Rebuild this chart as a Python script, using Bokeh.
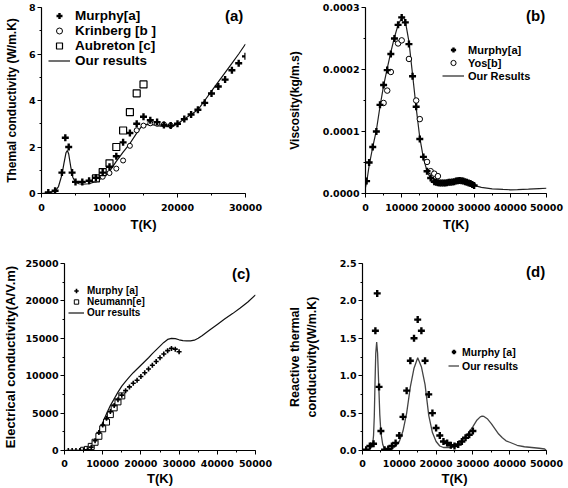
from bokeh.plotting import figure
from bokeh.layouts import column, row
from bokeh.models import (Range1d, SingleIntervalTicker, NumeralTickFormatter,
                          Legend, LegendItem)
from bokeh.embed import file_html
from bokeh.resources import INLINE

# ---------------- data ----------------
# (a) thermal conductivity
a_murphy_T = [1000, 2000, 3000, 3500, 4000, 4500, 5000, 6000, 7000, 8000, 9000, 10000,
              11000, 12000, 13000, 14000, 15000, 16000, 17000, 18000, 19000, 20000,
              21000, 22000, 23000, 24000, 25000, 26000, 27000, 28000, 29000, 30000]
a_murphy_v = [0.04, 0.12, 0.9, 2.4, 2.0, 0.9, 0.5, 0.5, 0.55, 0.68, 0.9, 1.15,
              1.6, 2.2, 2.6, 3.0, 3.3, 3.15, 3.07, 2.95, 2.92, 3.0,
              3.2, 3.4, 3.6, 3.9, 4.3, 4.6, 4.9, 5.3, 5.6, 5.9]
a_krinberg_T = [8000, 9000, 10000, 11000, 12000, 13000, 14000, 15000, 16000, 17000, 18000, 19000]
a_krinberg_v = [0.6, 0.72, 0.88, 1.07, 1.42, 2.05, 2.72, 2.92, 3.02, 3.0, 2.97, 2.93]
a_aubreton_T = [8000, 9000, 10000, 11000, 12000, 13000, 14000, 15000]
a_aubreton_v = [0.65, 0.92, 1.3, 2.0, 2.71, 3.5, 4.31, 4.69]
a_ours_T = [0, 1000, 2000, 2500, 3000, 3300, 3600, 3800, 4000, 4300, 4600, 5000, 5500,
            6000, 7000, 8000, 9000, 10000, 11000, 12000, 13000, 14000, 14800, 15500,
            16500, 17500, 18500, 19500, 20000, 21000, 22000, 23000, 24000, 25000,
            26000, 27000, 28000, 29000, 30000]
a_ours_v = [0, 0.03, 0.1, 0.3, 0.8, 1.3, 1.75, 1.85, 1.7, 1.15, 0.7, 0.48, 0.42,
            0.4, 0.42, 0.52, 0.68, 0.95, 1.38, 1.78, 2.15, 2.6, 2.92, 2.97,
            2.95, 2.9, 2.88, 2.92, 3.0, 3.2, 3.4, 3.6, 4.0, 4.4,
            4.8, 5.2, 5.6, 6.0, 6.43]

# (b) viscosity
b_murphy_T = [300, 1000, 2000, 3000, 4000, 5000, 6000, 7000, 8000, 9000, 10000, 11000,
              12000, 13000, 14000, 15000, 16000, 17000, 18000, 19000, 19500, 20000,
              20500, 21000, 21500, 22000, 22500, 23000, 23500, 24000, 24500, 25000,
              25500, 26000, 26500, 27000, 27500, 28000, 28500, 29000, 29500, 30000]
b_murphy_v = [0.2e-4, 0.5e-4, 0.75e-4, 1.0e-4, 1.43e-4, 1.75e-4, 1.99e-4, 2.25e-4, 2.5e-4,
              2.72e-4, 2.84e-4, 2.76e-4, 2.41e-4, 1.89e-4, 1.40e-4, 0.88e-4, 0.59e-4,
              0.36e-4, 0.25e-4, 0.19e-4, 0.18e-4, 0.175e-4, 0.17e-4, 0.17e-4, 0.17e-4,
              0.17e-4, 0.175e-4, 0.18e-4, 0.18e-4, 0.185e-4, 0.19e-4, 0.2e-4, 0.205e-4,
              0.21e-4, 0.205e-4, 0.2e-4, 0.19e-4, 0.18e-4, 0.17e-4, 0.16e-4, 0.145e-4,
              0.13e-4]
b_yos_T = [5000, 6000, 7000, 9000, 10000, 12000, 14000, 15000, 17000, 18000, 19000, 20000]
b_yos_v = [1.46e-4, 1.66e-4, 1.96e-4, 2.42e-4, 2.47e-4, 2.17e-4, 1.50e-4, 1.20e-4,
           0.51e-4, 0.36e-4, 0.32e-4, 0.28e-4]
b_ours_T = [0, 500, 1000, 2000, 3000, 4000, 5000, 6000, 7000, 8000, 9000, 10000, 10500,
            11000, 12000, 13000, 14000, 15000, 16000, 17000, 18000, 19000, 20000, 22000,
            24000, 26000, 28000, 30000, 32000, 35000, 38000, 40000, 42000, 45000, 48000,
            50000]
b_ours_v = [0.1e-4, 0.25e-4, 0.45e-4, 0.75e-4, 1.02e-4, 1.40e-4, 1.74e-4, 2.02e-4,
            2.28e-4, 2.52e-4, 2.72e-4, 2.83e-4, 2.84e-4, 2.78e-4, 2.45e-4, 1.92e-4,
            1.38e-4, 0.9e-4, 0.57e-4, 0.36e-4, 0.24e-4, 0.19e-4, 0.17e-4, 0.17e-4,
            0.18e-4, 0.2e-4, 0.17e-4, 0.13e-4, 0.1e-4, 0.075e-4, 0.065e-4, 0.06e-4,
            0.062e-4, 0.07e-4, 0.08e-4, 0.085e-4]

# (c) electrical conductivity
c_murphy_T = [1000, 2000, 3000, 4000, 5000, 6000, 7000, 8000, 9000, 10000, 11000, 12000,
              13000, 14000, 15000, 16000, 17000, 18000, 19000, 20000, 21000, 22000,
              23000, 24000, 25000, 26000, 27000, 28000, 29000, 30000]
c_murphy_v = [0, 0, 0, 0, 0, 100, 450, 1300, 2400, 3400, 4300, 5200,
              6000, 6800, 7400, 8000, 8500, 9000, 9400, 9900, 10400, 10900,
              11400, 11900, 12400, 12900, 13350, 13650, 13550, 13200]
c_neumann_T = [5000, 6000, 7000, 8000, 9000, 10000, 11000, 12000, 13000, 14000, 15000]
c_neumann_v = [30, 150, 550, 1100, 1900, 2900, 3800, 4800, 5700, 6500, 7300]
c_ours_T = [1000, 5000, 6000, 7000, 8000, 9000, 10000, 11000, 12000, 13000, 14000, 15000,
            16000, 17000, 18000, 19000, 20000, 21000, 22000, 23000, 24000, 25000, 26000,
            27000, 28000, 29000, 30000, 31000, 32000, 33000, 34000, 35000, 36000, 38000,
            40000, 42000, 44000, 46000, 48000, 50000]
c_ours_v = [0, 0, 30, 300, 1200, 2450, 3700, 4900, 6000, 6900, 7800, 8600,
            9250, 9850, 10400, 10900, 11400, 11900, 12400, 12950, 13450, 13950, 14450,
            14850, 15000, 14950, 14800, 14700, 14650, 14650, 14750, 15000, 15350, 16100,
            16850, 17600, 18300, 19050, 19850, 20800]

# (d) reactive thermal conductivity
d_murphy_T = [1000, 2000, 3000, 3500, 4000, 4500, 5000, 6000, 7000, 8000, 9000, 10000,
              11000, 12000, 13000, 14000, 15000, 16000, 17000, 18000, 19000, 20000,
              21000, 22000, 23000, 24000, 25000, 26000, 27000, 28000, 29000, 30000]
d_murphy_v = [0.01, 0.06, 0.09, 1.6, 2.1, 0.85, 0.26, 0.01, 0.02, 0.06, 0.1, 0.2,
              0.45, 0.8, 1.2, 1.5, 1.75, 1.6, 1.2, 0.75, 0.5, 0.3,
              0.2, 0.12, 0.1, 0.07, 0.06, 0.08, 0.12, 0.17, 0.21, 0.26]
d_ours_T = [0, 1000, 2000, 2500, 2800, 3000, 3200, 3400, 3600, 3850, 4100, 4400, 4700,
            5000, 5500, 6000, 7000, 8000, 9000, 10000, 11000, 12000, 13000, 14000, 15000,
            16000, 17000, 18000, 19000, 20000, 21000, 22000, 23000, 24000, 25000, 26000,
            27000, 28000, 29000, 30000, 31000, 32000, 32500, 33000, 34000, 35000, 36000,
            37000, 38000, 39000, 40000, 42000, 44000, 46000, 48000, 49500, 50000]
d_ours_v = [0, 0, 0.02, 0.05, 0.1, 0.2, 0.45, 0.9, 1.3, 1.45, 1.3, 0.9, 0.48,
            0.24, 0.08, 0.02, 0.0, 0.02, 0.06, 0.12, 0.26, 0.5, 0.85, 1.1, 1.24,
            1.12, 0.88, 0.47, 0.24, 0.12, 0.06, 0.04, 0.04, 0.04, 0.05, 0.08,
            0.12, 0.18, 0.25, 0.32, 0.4, 0.45, 0.46, 0.455, 0.42, 0.36, 0.29,
            0.22, 0.17, 0.13, 0.11, 0.07, 0.05, 0.04, 0.03, 0.02, 0.0]

panel_tags = ["(a)", "(b)", "(c)", "(d)"]

TICK_FONT = "DejaVu Sans"
LBL_FONT = "Liberation Sans"


def make_fig(fw, fh, left, right, top, bottom, xr, yr, xint, yint, ylabel,
             ylabel_size, ylab_standoff, tick_standoff, xlab_standoff, yfmt=None):
    p = figure(frame_width=fw, frame_height=fh, min_border_left=left,
               min_border_right=right, min_border_top=top, min_border_bottom=bottom,
               x_range=Range1d(*xr), y_range=Range1d(*yr), output_backend="svg",
               toolbar_location=None, tools="")
    p.outline_line_color = None
    p.xgrid.visible = False
    p.ygrid.visible = False
    p.background_fill_color = "white"
    p.border_fill_color = "white"
    p.xaxis.ticker = SingleIntervalTicker(interval=xint, num_minor_ticks=2)
    p.yaxis.ticker = SingleIntervalTicker(interval=yint, num_minor_ticks=2)
    if yfmt:
        p.yaxis.formatter = NumeralTickFormatter(format=yfmt)
    for ax in (p.xaxis[0], p.yaxis[0]):
        ax.axis_line_color = "black"
        ax.axis_line_width = 1.2
        ax.major_tick_line_color = "black"
        ax.minor_tick_line_color = "black"
        ax.major_tick_out = 4
        ax.major_tick_in = 0
        ax.minor_tick_out = 2
        ax.minor_tick_in = 0
        ax.major_label_text_font = TICK_FONT
        ax.major_label_text_font_style = "bold"
        ax.major_label_text_font_size = "9.5px"
        ax.major_label_text_color = "black"
        ax.axis_label_text_font = LBL_FONT
        ax.axis_label_text_font_style = "bold"
        ax.axis_label_text_color = "black"
    p.yaxis.major_label_standoff = 2
    p.xaxis.major_label_standoff = tick_standoff
    p.xaxis.axis_label = "T(K)"
    p.xaxis.axis_label_text_font_size = "13px"
    p.xaxis.axis_label_standoff = xlab_standoff
    p.yaxis.axis_label = ylabel
    p.yaxis.axis_label_text_font_size = ylabel_size
    p.yaxis.axis_label_standoff = ylab_standoff
    return p


def plus(p, x, y, size=7, lw=2.4):
    return p.scatter(x, y, marker="cross", size=size, line_color="black", line_width=lw)


def make_legend(p, items, loc, font_size, gw, gh, standoff, spacing):
    lg = Legend(items=items, location=loc, border_line_color=None,
                background_fill_alpha=0, padding=0, margin=0, spacing=spacing,
                glyph_width=gw, glyph_height=gh, label_height=gh,
                label_standoff=standoff, label_text_font=LBL_FONT,
                label_text_font_style="bold", label_text_font_size=font_size,
                label_text_color="black")
    p.add_layout(lg)


def panel_tag(p, text, loc):
    # panel letter drawn as a glyph-less legend entry
    blank = p.line(x=[], y=[], line_alpha=0)
    make_legend(p, [LegendItem(label=text, renderers=[blank])], loc, "15px", 0, 17, 0, 0)


# ---------------- (a) ----------------
pa = make_fig(204, 186, 41, 39, 7, 50, (0, 30000), (0, 8), 10000, 2,
              "Themal conductivity (W/m.K)", "12px", 7, 6, 3)
ra_line = pa.line(a_ours_T, a_ours_v, line_color="#111111", line_width=1.2)
ra_k = pa.scatter(a_krinberg_T, a_krinberg_v, marker="circle", size=5,
                  line_color="black", fill_color="white", line_width=1)
ra_a = pa.scatter(a_aubreton_T, a_aubreton_v, marker="square", size=7,
                  line_color="black", fill_color="white", line_width=1.2)
ra_m = plus(pa, a_murphy_T, a_murphy_v)
make_legend(pa, [LegendItem(label="Murphy[a]", renderers=[ra_m]),
                 LegendItem(label="Krinberg [b ]", renderers=[ra_k]),
                 LegendItem(label="Aubreton [c]", renderers=[ra_a]),
                 LegendItem(label="Our results", renderers=[ra_line])],
            (7, 125), "13.5px", 22, 15, 5, 0)
panel_tag(pa, panel_tags[0], "top_right")

# ---------------- (b) ----------------
pb = make_fig(181, 186, 80, 21, 7, 50, (0, 50000), (0, 0.0003 * (1 + 1e-9)), 10000, 0.0001,
              "Viscosity(kg/m.s)", "12px", 18, 6, 3, "0.0000")
rb_line = pb.line(b_ours_T, b_ours_v, line_color="#222222", line_width=1.2)
rb_y = pb.scatter(b_yos_T, b_yos_v, marker="circle", size=5.5,
                  line_color="black", fill_color="white", line_width=1)
rb_m = plus(pb, b_murphy_T, b_murphy_v)
make_legend(pb, [LegendItem(label="Murphy[a]", renderers=[rb_m]),
                 LegendItem(label="Yos[b]", renderers=[rb_y]),
                 LegendItem(label="Our Results", renderers=[rb_line])],
            (77, 111), "11px", 22, 13, 4, 0)
panel_tag(pb, panel_tags[1], "top_right")

# ---------------- (c) ----------------
pc = make_fig(191, 187, 64, 29, 19, 37, (0, 50000), (0, 25000), 10000, 5000,
              "Electrical conductivity(A/V.m)", "13px", 4, 5, 1)
rc_line = pc.line(c_ours_T, c_ours_v, line_color="#111111", line_width=1.2)
rc_n = pc.scatter(c_neumann_T, c_neumann_v, marker="square", size=6,
                  line_color="black", fill_color="white", line_width=1)
rc_m = plus(pc, c_murphy_T, c_murphy_v, size=5, lw=1.6)
make_legend(pc, [LegendItem(label="Murphy [a]", renderers=[rc_m]),
                 LegendItem(label="Neumann[e]", renderers=[rc_n]),
                 LegendItem(label="Our results", renderers=[rc_line])],
            (4, 132), "10px", 16, 11, 3, 0)
panel_tag(pc, panel_tags[2], (168, 168))

# ---------------- (d) ----------------
pd_ = make_fig(184, 187, 77, 21, 20, 36, (0, 50000), (0, 2.5), 10000, 0.5,
               "Reactive thermal\nconductivity(W/m.K)", "12.5px", 18, 5, 1, "0.0")
rd_line = pd_.line(d_ours_T, d_ours_v, line_color="#444444", line_width=1.3)
rd_m = plus(pd_, d_murphy_T, d_murphy_v)
make_legend(pd_, [LegendItem(label="Murphy [a]", renderers=[rd_m]),
                  LegendItem(label="Our results", renderers=[rd_line])],
            (86, 78), "10.5px", 11, 13, 3, 1)
panel_tag(pd_, panel_tags[3], "top_right")

layout = column(row(pa, pb), row(pc, pd_))
open("out.html", "w").write(file_html(layout, INLINE))
